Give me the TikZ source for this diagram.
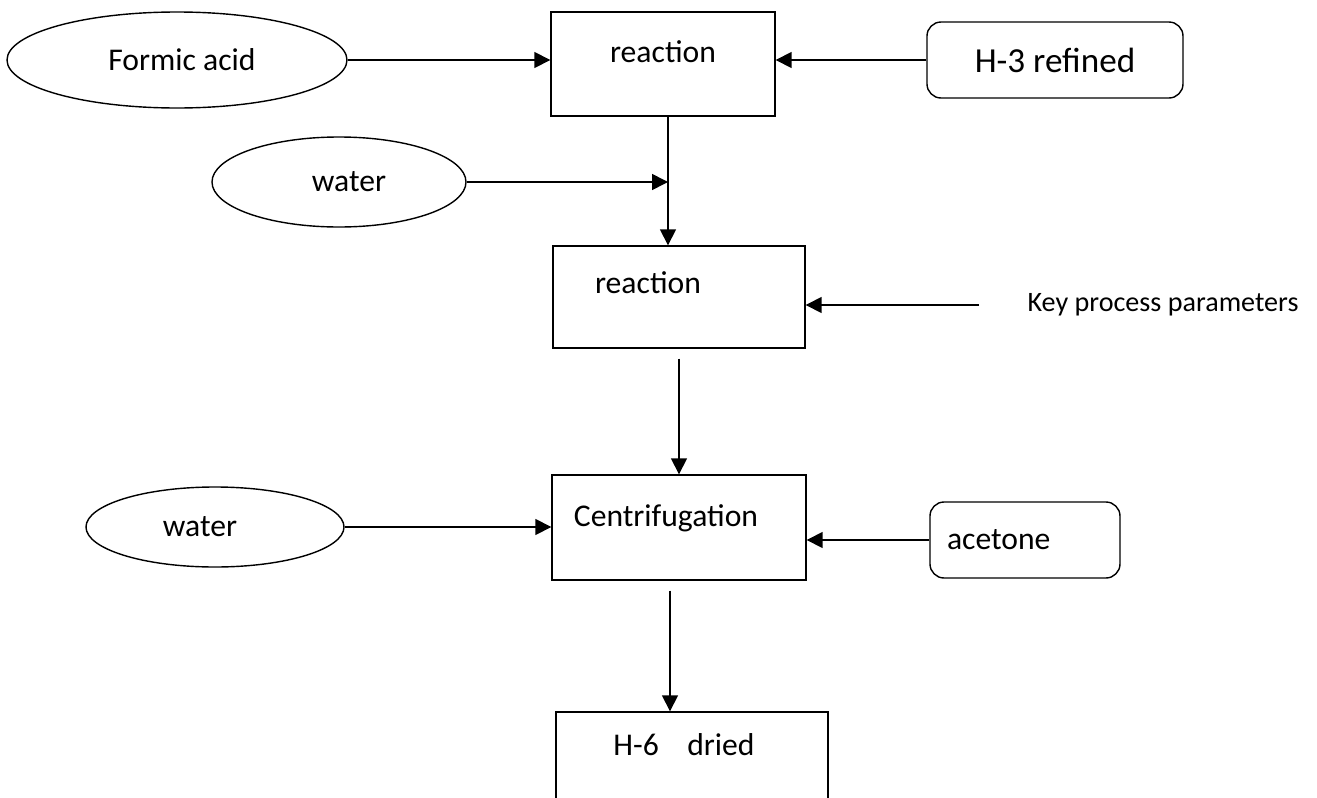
\documentclass[tikz,border=0pt]{standalone}
\usepackage{fontspec}
\setmainfont{Carlito}
\usetikzlibrary{arrows.meta,shapes.geometric}
\begin{document}
\begin{tikzpicture}[font=\fontsize{18}{22}\selectfont, line width=0.8pt,
  flow/.style={-{Triangle[width=9pt,length=9pt]},line width=0.9pt},
  stage/.style={draw,rectangle,minimum width=#1,minimum height=2.08cm,inner sep=0pt},
  feed/.style={draw,ellipse,inner sep=0pt},
  extra/.style={draw,rounded corners=8pt,inner sep=0pt}]
\useasboundingbox (0,0) rectangle (26.34,-15.96);
\node (fa) [feed, minimum width=6.8cm, minimum height=1.92cm] at (3.54,-1.2) {\hspace{0.2cm}Formic acid};
\node (rx1) [stage=4.48cm, label={[yshift=0.24cm]center:reaction}] at (13.26,-1.28) {};
\node (h3) [extra, minimum width=5.12cm, minimum height=1.52cm, font=\fontsize{20}{24}\selectfont] at (21.1,-1.2) {H-3 refined};
\node (wt1) [feed, minimum width=5.08cm, minimum height=1.8cm] at (6.78,-3.64) {\hspace{0.4cm}\raisebox{-6pt}{water}};
\node (rx2) [stage=5.04cm, minimum height=2.04cm, label={[xshift=-0.62cm,yshift=0.28cm]center:reaction}] at (13.58,-5.94) {};
\node (kpp) [font=\fontsize{16}{20}\selectfont] at (23.26,-6.1) {Key process parameters};
\node (cf) [stage=5.08cm, minimum height=2.1cm, label={[xshift=-0.26cm,yshift=0.18cm]center:Centrifugation}] at (13.58,-10.55) {};
\node (wt2) [feed, minimum width=5.16cm, minimum height=1.6cm] at (4.3,-10.54) {\hspace{-0.6cm}water};
\node (ac) [extra, minimum width=3.8cm, minimum height=1.52cm] at (20.5,-10.8) {\hspace{-1.05cm}\raisebox{-5pt}{acetone}};
\node (dry) [stage=5.44cm, minimum height=2.1cm, label={[xshift=-0.16cm,yshift=0.4cm]center:H-6\hspace{0.9em}dried}] at (13.84,-15.29) {};
\coordinate (jn) at ([xshift=0.1cm]rx1.south |- wt1.east);
\draw[flow] (fa) -- (fa -| rx1.west);
\draw[flow] (h3) -- (h3 -| rx1.east);
\draw[flow] (wt1.east) -- (jn);
\draw[flow] ([xshift=0.1cm]rx1.south) -- ([xshift=0.1cm]rx1.south |- rx2.north);
\draw[flow] (kpp.west) ++(-0.84,0) coordinate (kp) -- (kp -| rx2.east);
\draw[flow] ([yshift=-0.2cm]rx2.south) -- (rx2.south |- cf.north);
\draw[flow] (wt2.east) -- (wt2.east -| cf.west);
\draw[flow] (ac.west) -- (ac.west -| cf.east);
\draw[flow] ([xshift=-0.18cm,yshift=-0.2cm]cf.south) -- ([xshift=-0.18cm]cf.south |- dry.north);
\end{tikzpicture}
\end{document}
